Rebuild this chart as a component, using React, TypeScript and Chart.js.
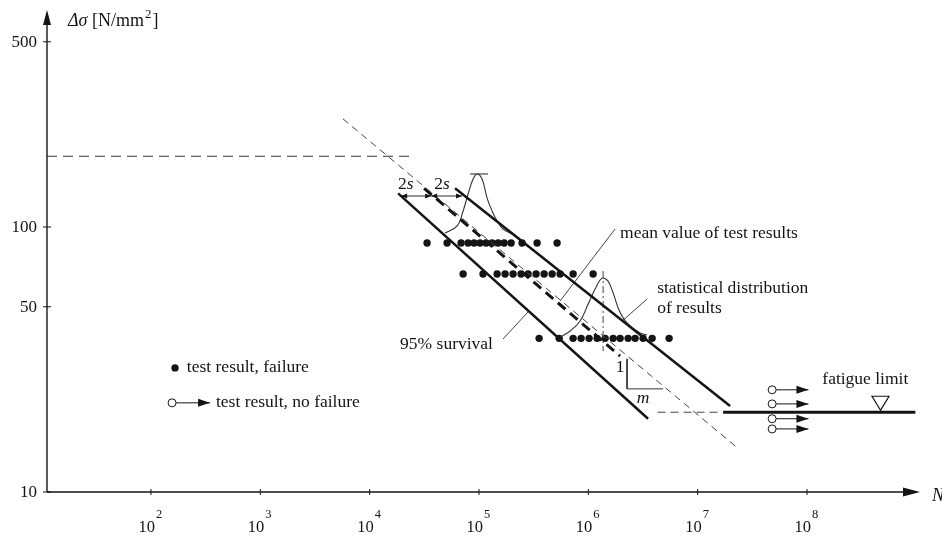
import React, { useEffect, useRef } from "react";
import { Chart, registerables } from "chart.js";
Chart.register(...registerables);

// ---- scales ----
const X_MIN = 11.2;
const X_MAX = 1.08e9;
const Y_MIN = 10;
const Y_MAX = 659;
const X_TICKS = [1e2, 1e3, 1e4, 1e5, 1e6, 1e7, 1e8];
const X_TICK_EXP = ["2", "3", "4", "5", "6", "7", "8"];
const Y_TICKS = [10, 50, 100, 500];
const Y_TICK_LABELS = ["10", "50", "100", "500"];

// ---- test results (failure) ----
const ROW1_N = [33500, 51100, 68600, 79500, 90200, 102300, 116100, 131800, 149600, 169800, 196700, 247800, 340000, 518000];
const ROW1_S = 87;
const ROW2_N = [71600, 108900, 146500, 173300, 205000, 242700, 281300, 332800, 394200, 466600, 552100, 726100, 1106000];
const ROW2_S = 66.5;
const ROW3_N = [354800, 540800, 726100, 859000, 1016000, 1204000, 1425000, 1687000, 1954000, 2312000, 2679000, 3170000, 3835000, 5483000];
const ROW3_S = 38;

// ---- run-outs (no failure) ----
const RUNOUT_N = 4.8e7;
const RUNOUT_ARROW_N = 1.03e8;
const RUNOUT_S = [24.3, 21.5, 18.9, 17.3];

// ---- lines [N, sigma] ----
const REF_H_N = [X_MIN, 26000];
const REF_H_S = [185, 185];
const SN_THIN_N = [5700, 2.3e7];
const SN_THIN_S = [256, 14.7];
const LOWER_N = [18200, 3.52e6];
const LOWER_S = [134, 18.9];
const MEAN_N = [31500, 1.95e6];
const MEAN_S = [140, 32.6];
const UPPER_N = [60400, 1.98e7];
const UPPER_S = [140, 21.1];
const FATIGUE_N = [1.71e7, 9.8e8];
const FATIGUE_S = 20;
const FATIGUE_DASH_N = [4.3e6, 1.6e7];
const FATIGUE_MARK_N = 4.7e8;

// ---- distributions ----
const BELL1_N = [49000, 63100, 71600, 79500, 88300, 96100, 106700, 118600, 131800, 146400, 166000, 201000];
const BELL1_S = [94.9, 100.9, 114.9, 133.2, 151.7, 158.5, 151.7, 128.6, 114.9, 105.3, 98.3, 94.1];
const BELL1_CAP_N = [83000, 121000];
const BELL1_CAP_S = 158.5;
const BELL2_N = [552000, 682000, 842000, 996000, 1153000, 1282000, 1365000, 1517000, 1685000, 1874000, 2080000, 2410000, 2980000, 3450000];
const BELL2_S = [38.4, 40.5, 44.2, 51.2, 58.3, 63.1, 64.2, 62.5, 56.4, 49.5, 45.4, 42.3, 39.8, 39.1];
const BELL2_AXIS_N = 1.365e6;
const BELL2_AXIS_S = [68.2, 34];

// ---- slope triangle ----
const SLOPE_N = [2.26e6, 2.26e6, 4.83e6];
const SLOPE_S = [31.8, 24.5, 24.5];

// ---- leader lines ----
const LEAD_MEAN_N = [1.758e6, 5.52e5];
const LEAD_MEAN_S = [98.3, 52.6];
const LEAD_STAT_N = [3.45e6, 2.04e6];
const LEAD_STAT_S = [53.5, 44.2];
const LEAD_95_N = [1.66e5, 2.81e5];
const LEAD_95_S = [37.8, 47.8];

// ---- 2s arrows ----
const TWO_S_N = [19400, 36500, 70000];
const TWO_S_S = 130.9;
const TWO_S_LABEL_N = [22400, 48000];
const TWO_S_LABEL_S = 145;

// ---- legend ----
const LEG_DOT = { n: 166, s: 29.4, textN: 213, text: "test result, failure" };
const LEG_RUN = { n: 156, s: 21.7, arrowN: 347, textN: 393, text: "test result, no failure" };

// ---- annotations ----
const NOTES = [
  { n: 1.95e6, s: 94.9, text: "mean value of test results" },
  { n: 4.26e6, s: 58.9, text: "statistical distribution" },
  { n: 4.26e6, s: 49.1, text: "of results" },
  { n: 1.9e4, s: 36.2, text: "95% survival" },
  { n: 1.38e8, s: 26.5, text: "fatigue limit" },
];
const SLOPE_ONE = { n: 1.95e6, s: 29.4, text: "1" };
const SLOPE_M = { n: 3.17e6, s: 22.6, text: "m" };

const INK = "#141414";
const FONT = '"Liberation Serif", "DejaVu Serif", serif';
const NOTE_PX = 17.5;

const pts = (ns: number[], ss: number[] | number) =>
  ns.map((n, i) => ({ x: n, y: Array.isArray(ss) ? ss[i] : ss }));

function lineDs(data: any[], width: number, dash: number[] = [], color = INK, tension = 0) {
  return {
    type: "line" as const,
    data,
    borderColor: color,
    borderWidth: width,
    borderDash: dash,
    pointRadius: 0,
    fill: false,
    tension,
    showLine: true,
    clip: false as any,
  };
}

function arrow(ctx: CanvasRenderingContext2D, x1: number, y1: number, x2: number, y2: number, len: number, half: number, both = false) {
  ctx.beginPath();
  ctx.moveTo(x1, y1);
  ctx.lineTo(x2, y2);
  ctx.stroke();
  const head = (tx: number, ty: number, fx: number, fy: number) => {
    const a = Math.atan2(ty - fy, tx - fx);
    ctx.beginPath();
    ctx.moveTo(tx, ty);
    ctx.lineTo(tx - len * Math.cos(a) + half * Math.sin(a), ty - len * Math.sin(a) - half * Math.cos(a));
    ctx.lineTo(tx - len * Math.cos(a) - half * Math.sin(a), ty - len * Math.sin(a) + half * Math.cos(a));
    ctx.closePath();
    ctx.fill();
  };
  head(x2, y2, x1, y1);
  if (both) head(x1, y1, x2, y2);
}

const diagramPlugin = {
  id: "diagram",
  afterDatasetsDraw(chart: any) {
    const ctx: CanvasRenderingContext2D = chart.ctx;
    const xs = chart.scales.x;
    const ys = chart.scales.y;
    const px = (v: number) => xs.getPixelForValue(v);
    const py = (v: number) => ys.getPixelForValue(v);
    const area = chart.chartArea;
    const L = area.left;
    const B = py(Y_MIN);
    const T = area.top;
    const R = area.right;

    ctx.save();
    ctx.strokeStyle = INK;
    ctx.fillStyle = INK;

    // axes
    ctx.lineWidth = 1.4;
    ctx.beginPath();
    ctx.moveTo(L, B);
    ctx.lineTo(L, T + 10);
    ctx.moveTo(L, B);
    ctx.lineTo(R - 12, B);
    ctx.stroke();
    ctx.beginPath();
    ctx.moveTo(L, T);
    ctx.lineTo(L - 4, T + 15);
    ctx.lineTo(L + 4, T + 15);
    ctx.closePath();
    ctx.fill();
    ctx.beginPath();
    ctx.moveTo(R, B);
    ctx.lineTo(R - 17, B - 4.5);
    ctx.lineTo(R - 17, B + 4.5);
    ctx.closePath();
    ctx.fill();

    // ticks
    ctx.lineWidth = 1;
    ctx.beginPath();
    X_TICKS.forEach((t) => {
      const x = px(t);
      ctx.moveTo(x, B - 3);
      ctx.lineTo(x, B + 3);
    });
    Y_TICKS.forEach((t) => {
      const y = py(t);
      ctx.moveTo(L - 4, y);
      ctx.lineTo(L + 4, y);
    });
    ctx.stroke();

    // tick labels
    ctx.textBaseline = "alphabetic";
    X_TICKS.forEach((t, i) => {
      const x = px(t);
      ctx.font = `16.5px ${FONT}`;
      ctx.textAlign = "right";
      ctx.fillText("10", x + 4, B + 40);
      ctx.font = `12.5px ${FONT}`;
      ctx.textAlign = "left";
      ctx.fillText(X_TICK_EXP[i], x + 5, B + 26);
    });
    ctx.font = `17px ${FONT}`;
    ctx.textAlign = "right";
    ctx.textBaseline = "middle";
    Y_TICKS.forEach((t, i) => {
      ctx.fillText(Y_TICK_LABELS[i], L - 10, py(t) + 1);
    });

    // axis titles
    ctx.textAlign = "left";
    ctx.textBaseline = "alphabetic";
    let tx = L + 21;
    const ty = T + 16;
    ctx.font = `italic 18px ${FONT}`;
    ctx.fillText("Δσ", tx, ty);
    tx += ctx.measureText("Δσ").width;
    ctx.font = `18px ${FONT}`;
    ctx.fillText(" [N/mm", tx, ty);
    tx += ctx.measureText(" [N/mm").width;
    ctx.font = `13px ${FONT}`;
    ctx.fillText("2", tx + 1, ty - 8);
    tx += ctx.measureText("2").width + 2;
    ctx.font = `18px ${FONT}`;
    ctx.fillText("]", tx, ty);
    ctx.font = `italic 18px ${FONT}`;
    ctx.textBaseline = "middle";
    ctx.fillText("N", R + 12, B + 4);

    // run-out arrows
    ctx.lineWidth = 1;
    RUNOUT_S.forEach((s) => {
      arrow(ctx, px(RUNOUT_N) + 4, py(s), px(RUNOUT_ARROW_N), py(s), 12, 4);
    });
    arrow(ctx, px(LEG_RUN.n) + 4, py(LEG_RUN.s), px(LEG_RUN.arrowN), py(LEG_RUN.s), 12, 4);

    // 2s arrows
    ctx.lineWidth = 0.9;
    arrow(ctx, px(TWO_S_N[0]), py(TWO_S_S), px(TWO_S_N[1]), py(TWO_S_S), 6, 2.5, true);
    arrow(ctx, px(TWO_S_N[1]), py(TWO_S_S), px(TWO_S_N[2]), py(TWO_S_S), 6, 2.5, true);
    TWO_S_LABEL_N.forEach((n) => {
      const x = px(n) - 10;
      const y = py(TWO_S_LABEL_S);
      ctx.textAlign = "left";
      ctx.textBaseline = "middle";
      ctx.font = `${NOTE_PX}px ${FONT}`;
      ctx.fillText("2", x, y);
      const w = ctx.measureText("2").width;
      ctx.font = `italic ${NOTE_PX}px ${FONT}`;
      ctx.fillText("s", x + w, y);
    });

    // fatigue limit triangle
    const fx = px(FATIGUE_MARK_N);
    const fy = py(FATIGUE_S) - 2;
    ctx.lineWidth = 1.2;
    ctx.fillStyle = "#ffffff";
    ctx.beginPath();
    ctx.moveTo(fx, fy);
    ctx.lineTo(fx - 8.5, fy - 14);
    ctx.lineTo(fx + 8.5, fy - 14);
    ctx.closePath();
    ctx.fill();
    ctx.stroke();
    ctx.fillStyle = INK;

    // annotations
    ctx.font = `${NOTE_PX}px ${FONT}`;
    ctx.textAlign = "left";
    ctx.textBaseline = "middle";
    NOTES.forEach((a) => ctx.fillText(a.text, px(a.n), py(a.s)));
    ctx.fillText(LEG_DOT.text, px(LEG_DOT.textN), py(LEG_DOT.s));
    ctx.fillText(LEG_RUN.text, px(LEG_RUN.textN), py(LEG_RUN.s));
    ctx.textAlign = "center";
    ctx.fillText(SLOPE_ONE.text, px(SLOPE_ONE.n), py(SLOPE_ONE.s));
    ctx.font = `italic ${NOTE_PX}px ${FONT}`;
    ctx.fillText(SLOPE_M.text, px(SLOPE_M.n), py(SLOPE_M.s));

    ctx.restore();
  },
};

export default function App() {
  const ref = useRef<HTMLCanvasElement | null>(null);
  useEffect(() => {
    document.body.style.margin = "0";
    const canvas = ref.current;
    if (!canvas) return;
    const dot = (data: any[]) => ({
      type: "scatter" as const,
      data,
      pointRadius: 3.7,
      pointBackgroundColor: INK,
      pointBorderColor: INK,
      pointBorderWidth: 0,
      showLine: false,
      clip: false as any,
    });
    const ring = (data: any[]) => ({
      type: "scatter" as const,
      data,
      pointRadius: 4,
      pointBackgroundColor: "#ffffff",
      pointBorderColor: INK,
      pointBorderWidth: 1,
      showLine: false,
      clip: false as any,
    });
    const chart = new Chart(canvas, {
      type: "scatter",
      data: {
        datasets: [
          lineDs(pts(REF_H_N, REF_H_S), 1.1, [10, 6], "#333"),
          lineDs(pts(SN_THIN_N, SN_THIN_S), 1, [7, 5], "#444"),
          lineDs(pts(LOWER_N, LOWER_S), 2.5),
          lineDs(pts(MEAN_N, MEAN_S), 3, [10, 6]),
          lineDs(pts(UPPER_N, UPPER_S), 2.5),
          lineDs(pts(FATIGUE_N, FATIGUE_S), 3.2),
          lineDs(pts(FATIGUE_DASH_N, FATIGUE_S), 1, [8, 5], "#444"),
          lineDs(pts(BELL1_N, BELL1_S), 1.1, [], "#333", 0.4),
          lineDs(pts(BELL1_CAP_N, BELL1_CAP_S), 1.1, [], "#333"),
          lineDs(pts(BELL2_N, BELL2_S), 1.1, [], "#333", 0.4),
          lineDs(pts([BELL2_AXIS_N, BELL2_AXIS_N], BELL2_AXIS_S), 1, [7, 3, 2, 3], "#444"),
          lineDs(pts(SLOPE_N, SLOPE_S), 1, [], "#333"),
          lineDs(pts(LEAD_MEAN_N, LEAD_MEAN_S), 1, [], "#444"),
          lineDs(pts(LEAD_STAT_N, LEAD_STAT_S), 1, [], "#444"),
          lineDs(pts(LEAD_95_N, LEAD_95_S), 1, [], "#444"),
          dot(pts(ROW1_N, ROW1_S)),
          dot(pts(ROW2_N, ROW2_S)),
          dot(pts(ROW3_N, ROW3_S)),
          dot([{ x: LEG_DOT.n, y: LEG_DOT.s }]),
          ring(pts(RUNOUT_S.map(() => RUNOUT_N), RUNOUT_S)),
          ring([{ x: LEG_RUN.n, y: LEG_RUN.s }]),
        ] as any,
      },
      options: {
        responsive: false,
        animation: false,
        devicePixelRatio: 1,
        events: [],
        layout: { padding: { left: 47, right: 22, top: 10, bottom: 49 } },
        plugins: { legend: { display: false }, tooltip: { enabled: false } },
        scales: {
          x: { type: "logarithmic", min: X_MIN, max: X_MAX, display: false },
          y: { type: "logarithmic", min: Y_MIN, max: Y_MAX, display: false },
        },
      } as any,
      plugins: [diagramPlugin],
    });
    return () => chart.destroy();
  }, []);
  return (
    <div style={{ width: 942, height: 541, background: "#fff" }}>
      <canvas ref={ref} width={942} height={541} style={{ display: "block" }} />
    </div>
  );
}
